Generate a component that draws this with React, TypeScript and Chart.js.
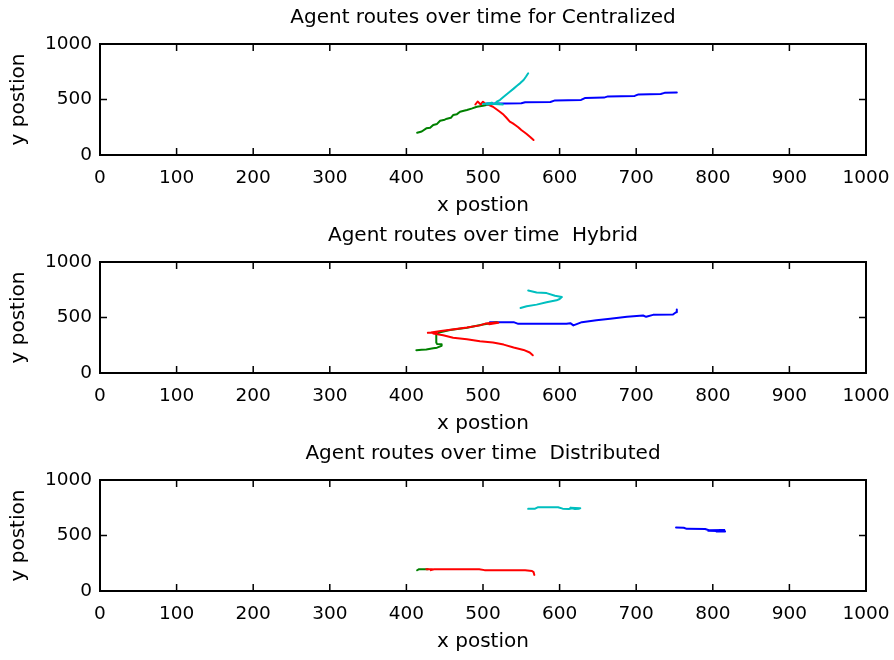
import React, { useEffect, useRef } from "react";
import { Chart, registerables } from "chart.js";

Chart.register(...registerables);

type P = [number, number];

// ---------- Titles / labels ----------
const chartTitles = [
  "Agent routes over time for Centralized",
  "Agent routes over time  Hybrid",
  "Agent routes over time  Distributed",
];
const xLabel = "x postion";
const yLabel = "y postion";
const axisMin = 0;
const axisMax = 1000;
const xStep = 100;
const yStep = 500;

// agent colours (MATLAB b, g, r, c)
const agentColors = { blue: "#0000ff", green: "#008000", red: "#ff0000", cyan: "#00bfbf" };

// ---------- Centralized ----------
const centralBlue: P[] = [
  [505, 463], [530, 465], [550, 467], [555, 476], [588, 478], [594, 492], [628, 496],
  [633, 513], [658, 517], [663, 528], [698, 532], [703, 546], [732, 550], [737, 560], [753, 563],
];
const centralGreen: P[] = [
  [414, 201], [420, 212], [426, 240], [431, 245], [435, 270], [440, 280], [444, 309],
  [450, 318], [453, 327], [458, 335], [461, 360], [466, 368], [470, 390], [475, 398],
  [479, 405], [486, 420], [492, 435], [500, 444], [509, 457],
];
const centralRed: P[] = [
  [490, 455], [493, 482], [497, 455], [500, 480], [504, 458], [508, 450], [513, 435],
  [518, 410], [522, 390], [527, 362], [530, 340], [535, 300], [539, 285], [542, 270],
  [546, 250], [550, 225], [554, 205], [557, 189], [562, 160], [566, 135],
];
const centralCyan: P[] = [
  [500, 460], [512, 470], [505, 455], [520, 465], [526, 455], [515, 460], [518, 480],
  [522, 495], [527, 525], [531, 548], [535, 570], [540, 598], [544, 622], [549, 650],
  [553, 676], [556, 705], [559, 736],
];

// ---------- Hybrid ----------
const hybridBlue: P[] = [
  [509, 458], [540, 458], [546, 443], [609, 443], [614, 449], [618, 429], [624, 445],
  [629, 458], [648, 476], [666, 488], [688, 506], [709, 518], [713, 506], [722, 524],
  [748, 527], [752, 548], [753, 571],
];
const hybridGreen: P[] = [
  [413, 205], [420, 210], [426, 212], [435, 222], [440, 228], [446, 245], [446, 258],
  [440, 262], [439, 275], [439, 348], [444, 368], [457, 387], [479, 408], [500, 437], [518, 458],
];
const hybridRed: P[] = [
  [520, 452], [508, 440], [518, 455], [503, 445], [496, 429], [479, 410], [460, 392],
  [445, 378], [432, 365], [428, 362], [440, 368], [435, 356], [448, 340], [461, 318],
  [479, 304], [496, 286], [513, 274], [527, 256], [540, 229], [553, 208], [561, 185], [565, 160],
];
const hybridCyan: P[] = [
  [559, 744], [570, 726], [583, 720], [594, 696], [603, 685], [600, 667], [596, 655],
  [583, 637], [570, 616], [557, 601], [549, 586],
];

// ---------- Distributed ----------
const distBlue: P[] = [
  [752, 571], [762, 570], [766, 560], [790, 558], [795, 548], [815, 550], [800, 545],
  [816, 538], [794, 542], [812, 540], [805, 535], [816, 536],
];
const distGreen: P[] = [[414, 187], [416, 195], [420, 197], [428, 197]];
const distRed: P[] = [
  [426, 196], [434, 196], [432, 188], [436, 196], [460, 196], [495, 196], [502, 188],
  [540, 188], [555, 187], [564, 180], [566, 170], [567, 145],
];
const distCyan: P[] = [
  [559, 740], [568, 742], [572, 755], [598, 755], [604, 742], [612, 738], [618, 748],
  [622, 740], [627, 746], [614, 750], [620, 738], [626, 742],
];

type Series = { color: string; points: P[] };

// first dataset is drawn on top -> cyan, red, green, blue
const panels: { title: string; series: Series[] }[] = [
  {
    title: chartTitles[0],
    series: [
      { color: agentColors.cyan, points: centralCyan },
      { color: agentColors.red, points: centralRed },
      { color: agentColors.green, points: centralGreen },
      { color: agentColors.blue, points: centralBlue },
    ],
  },
  {
    title: chartTitles[1],
    series: [
      { color: agentColors.cyan, points: hybridCyan },
      { color: agentColors.red, points: hybridRed },
      { color: agentColors.green, points: hybridGreen },
      { color: agentColors.blue, points: hybridBlue },
    ],
  },
  {
    title: chartTitles[2],
    series: [
      { color: agentColors.cyan, points: distCyan },
      { color: agentColors.red, points: distRed },
      { color: agentColors.green, points: distGreen },
      { color: agentColors.blue, points: distBlue },
    ],
  },
];

const FONT = "'DejaVu Sans', sans-serif";
const W = 894;
const H = 218;

const boxPlugin = {
  id: "matlabBox",
  afterDatasetsDraw(chart: any, _args: any, opts: any) {
    const { ctx, chartArea: a, scales } = chart;
    const tl = 7;
    ctx.save();
    ctx.strokeStyle = "#000";
    ctx.lineWidth = 1.5;
    ctx.beginPath();
    scales.x.ticks.forEach((t: any) => {
      const px = scales.x.getPixelForValue(t.value);
      ctx.moveTo(px, a.bottom);
      ctx.lineTo(px, a.bottom - tl);
      ctx.moveTo(px, a.top);
      ctx.lineTo(px, a.top + tl);
    });
    scales.y.ticks.forEach((t: any) => {
      const py = scales.y.getPixelForValue(t.value);
      ctx.moveTo(a.left, py);
      ctx.lineTo(a.left + tl, py);
      ctx.moveTo(a.right, py);
      ctx.lineTo(a.right - tl, py);
    });
    ctx.stroke();
    ctx.lineWidth = 2;
    ctx.strokeRect(a.left, a.top, a.right - a.left, a.bottom - a.top);
    // title centred over the plot box
    ctx.fillStyle = "#000";
    ctx.font = `20px ${FONT}`;
    ctx.textAlign = "center";
    ctx.textBaseline = "middle";
    ctx.fillText(opts.text, (a.left + a.right) / 2, 18);
    ctx.restore();
  },
};

function RoutePanel({ title, series }: { title: string; series: Series[] }) {
  const ref = useRef<HTMLCanvasElement>(null);
  useEffect(() => {
    const chart = new Chart(ref.current!, {
      type: "line",
      data: {
        datasets: series.map((s) => ({
          data: s.points.map(([x, y]) => ({ x, y })),
          borderColor: s.color,
          backgroundColor: s.color,
          borderWidth: 2,
          borderJoinStyle: "round",
          borderCapStyle: "round",
          pointRadius: 0,
          fill: false,
          tension: 0,
        })),
      },
      options: {
        responsive: false,
        animation: false,
        layout: { padding: { left: 0, right: 28, top: 44, bottom: 0 } },
        plugins: {
          legend: { display: false },
          tooltip: { enabled: false },
          title: { display: false },
          matlabBox: { text: title },
        },
        scales: {
          x: {
            type: "linear",
            min: axisMin,
            max: axisMax,
            grid: { display: false, drawTicks: false },
            border: { display: false },
            ticks: {
              stepSize: xStep,
              color: "#000",
              padding: 12,
              maxRotation: 0,
              autoSkip: false,
              font: { family: FONT, size: 18.5 },
              callback: (v: any) => String(v),
            },
            title: {
              display: true,
              text: xLabel,
              color: "#000",
              padding: { top: 0, bottom: 0 },
              font: { family: FONT, size: 20 },
            },
            afterFit: (scale: any) => {
              scale.height = 63;
              scale.paddingLeft = 0;
              scale.paddingRight = 0;
            },
          },
          y: {
            type: "linear",
            min: axisMin,
            max: axisMax,
            grid: { display: false, drawTicks: false },
            border: { display: false },
            ticks: {
              stepSize: yStep,
              color: "#000",
              padding: 8,
              font: { family: FONT, size: 18.5 },
              callback: (v: any) => String(v),
            },
            title: {
              display: true,
              text: yLabel,
              color: "#000",
              padding: { top: 7, bottom: 0 },
              font: { family: FONT, size: 20 },
            },
            afterFit: (scale: any) => {
              scale.width = 100;
              scale.paddingTop = 0;
              scale.paddingBottom = 0;
            },
          },
        },
      },
      plugins: [boxPlugin],
    } as any);
    return () => chart.destroy();
  }, [title, series]);
  return (
    <canvas
      ref={ref}
      width={W}
      height={H}
      style={{ display: "block", width: W, height: H }}
    />
  );
}

export default function App() {
  return (
    <div style={{ position: "absolute", left: 0, top: 0, width: W, height: 660, background: "#fff" }}>
      {panels.map((p, i) => (
        <RoutePanel key={i} title={p.title} series={p.series} />
      ))}
    </div>
  );
}
